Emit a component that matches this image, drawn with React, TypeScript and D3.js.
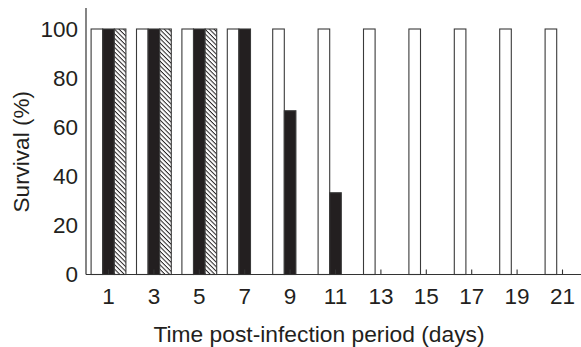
import React from "react";
import * as d3 from "d3";

const days = ["1", "3", "5", "7", "9", "11", "13", "15", "17", "19", "21"];
const whiteSeries = [100, 100, 100, 100, 100, 100, 100, 100, 100, 100, 100];
const blackSeries = [100, 100, 100, 100, 66.7, 33.3, 0, 0, 0, 0, 0];
const hatchSeries = [100, 100, 100, 0, 0, 0, 0, 0, 0, 0, 0];
const yTicks = [0, 20, 40, 60, 80, 100];

const W = 581;
const H = 347;
const left = 86;
const right = 585;
const top = 8;
const bottom = 274.5;

export default function App() {
  const x = d3
    .scaleBand<string>()
    .domain(days)
    .range([85.8, 85.8 + 45.4 * days.length])
    .paddingInner(0)
    .paddingOuter(0);
  const y = d3.scaleLinear().domain([0, 100]).range([bottom, 29]);
  const bw = 11.6;
  const series = [
    { values: whiteSeries, fill: "#ffffff", off: -1.5 },
    { values: blackSeries, fill: "#231f20", off: -0.5 },
    { values: hatchSeries, fill: "url(#hatch)", off: 0.5 },
  ];
  const font = "'Liberation Sans', Arial, sans-serif";
  return (
    <svg width={W} height={H} style={{ position: "absolute", left: 0, top: 0 }}>
      <defs>
        <pattern id="hatch" patternUnits="userSpaceOnUse" width="3.2" height="3.2" patternTransform="rotate(45)">
          <rect width="3.2" height="3.2" fill="#fff" />
          <line x1="0" y1="0.5" x2="3.2" y2="0.5" stroke="#231f20" strokeWidth="1" />
        </pattern>
      </defs>
      <rect width={W} height={H} fill="#fff" />
      {series.map((s, si) =>
        s.values.map((v, i) => {
          const cx = (x(days[i]) as number) + x.bandwidth() / 2;
          const x0 = cx + s.off * bw;
          if (v <= 0) return null;
          return (
            <rect
              key={si + "-" + i}
              x={x0}
              y={y(v)}
              width={bw}
              height={bottom - y(v)}
              fill={s.fill}
              stroke="#3a3a3a"
              strokeWidth={1.1}
            />
          );
        })
      )}
      {days.map((d, i) => {
        const cx = (x(d) as number) + x.bandwidth() / 2;
        return (
          <g key={d}>
            <line x1={cx} x2={cx} y1={bottom} y2={bottom - 5} stroke="#333" strokeWidth={1.1} />
            <text x={cx} y={304} textAnchor="middle" fontSize={22.5} fontFamily={font} fill="#231f20">
              {d}
            </text>
          </g>
        );
      })}
      <line x1={left} x2={left} y1={top} y2={bottom} stroke="#333" strokeWidth={1.2} />
      <line x1={left} x2={right} y1={bottom} y2={bottom} stroke="#333" strokeWidth={1.2} />
      {yTicks.map((t) => (
        <text key={t} x={78} y={y(t) + 7.5} textAnchor="end" fontSize={22.5} fontFamily={font} fill="#231f20">
          {t}
        </text>
      ))}
      <text x={319} y={341.5} textAnchor="middle" fontSize={22.8} fontFamily={font} fill="#231f20">
        Time post-infection period (days)
      </text>
      <text
        transform={`translate(28.5, ${y(50)}) rotate(-90)`}
        textAnchor="middle"
        fontSize={22.5}
        fontFamily={font}
        fill="#231f20"
      >
        Survival (%)
      </text>
    </svg>
  );
}
